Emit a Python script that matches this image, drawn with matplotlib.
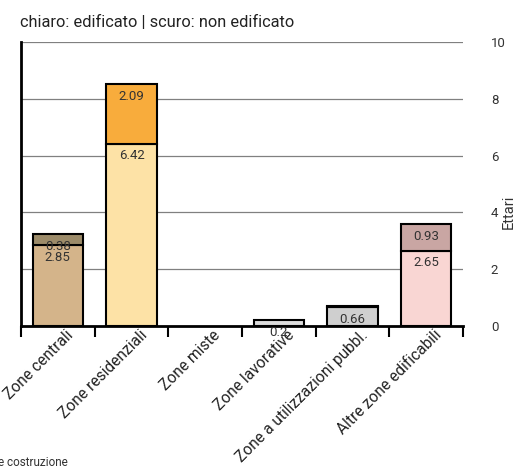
import matplotlib
matplotlib.use("Agg")
import matplotlib.pyplot as plt
import matplotlib.transforms as mtransforms
import numpy as np

plt.rcParams['font.family'] = ['Roboto', 'DejaVu Sans']

categories = ["Zone centrali", "Zone residenziali", "Zone miste", "Zone lavorative",
              "Zone a utilizzazioni pubbl.", "Altre zone edificabili"]
edificato = [2.85, 6.42, 0.0, 0.2, 0.66, 2.65]        # light segments
non_edificato = [0.38, 2.09, 0.0, 0.0, 0.03, 0.93]    # dark segments
edificato_labels = ["2.85", "6.42", "", "0.2", "0.66", "2.65"]
non_edificato_labels = ["0.38", "2.09", "", "", "", "0.93"]
yticks = [0, 2, 4, 6, 8, 10]

light_colors = ["#d4b48a", "#fde2a6", "#ffffff", "#dcdcdc", "#cfcfcf", "#f9d6d3"]
dark_colors = ["#9c8b69", "#f8ac3c", "#ffffff", "#a0a0a0", "#3a3a3a", "#c9a6a3"]

W, H = 517, 466
fig = plt.figure(figsize=(W / 100, H / 100), dpi=100)
ax = fig.add_axes([21 / W, (H - 326) / H, (463 - 21) / W, (326 - 42) / H])

x = np.arange(len(categories))
bw = 0.68

for y in yticks[1:]:
    ax.axhline(y, color="#808080", lw=0.9, zorder=1)

lw1 = [1.5 if v > 0 else 0 for v in edificato]
lw2 = [1.5 if v > 0 else 0 for v in non_edificato]
ax.bar(x, edificato, width=bw, color=light_colors, edgecolor="black", linewidth=lw1, zorder=2)
ax.bar(x, non_edificato, width=bw, bottom=edificato, color=dark_colors,
       edgecolor="black", linewidth=lw2, zorder=2)

# value labels sit just below the top of each segment
off = mtransforms.offset_copy(ax.transData, fig=fig, x=0, y=-12, units="dots")
for i in range(len(categories)):
    if edificato_labels[i]:
        ax.text(x[i], edificato[i], edificato_labels[i], transform=off,
                ha="center", va="center", fontsize=9.5, color="#333333", zorder=3)
    if non_edificato_labels[i]:
        ax.text(x[i], edificato[i] + non_edificato[i], non_edificato_labels[i], transform=off,
                ha="center", va="center", fontsize=9.5, color="#333333", zorder=3)

ax.set_xlim(-0.5, len(categories) - 0.5)
ax.set_ylim(0, 10)

for s in ["top", "right"]:
    ax.spines[s].set_visible(False)
ax.spines["left"].set_linewidth(2)
ax.spines["bottom"].set_linewidth(2)

ax.set_xticks(np.arange(-0.5, len(categories), 1.0))
ax.set_xticklabels([])
ax.tick_params(axis="x", length=8, width=1.5, direction="out")
ax.set_xticks(x, minor=True)
ax.set_xticklabels(categories, minor=True, rotation=45, ha="right", va="center",
                   rotation_mode="anchor", fontsize=11.2, color="#222222")
ax.tick_params(axis="x", which="minor", length=0, pad=5)
for lbl in ax.get_xticklabels(minor=True):
    lbl.set_transform(lbl.get_transform() + mtransforms.ScaledTranslation(13 / 100, 0, fig.dpi_scale_trans))

ax.yaxis.tick_right()
ax.set_yticks(yticks)
ax.set_yticklabels([str(v) for v in yticks], fontsize=9.5, color="#333333")
ax.tick_params(axis="y", length=0, pad=20)

fig.text(509 / W, 1 - 212 / H, "Ettari", rotation=90, fontsize=10.5, color="#333333",
         ha="center", va="center")
fig.text(20 / W, 1 - 22 / H, "chiaro: edificato | scuro: non edificato",
         fontsize=11.8, color="#222222", ha="left", va="center")
fig.text(-2 / W, 1 - 463 / H, "e costruzione", fontsize=8.5, color="#333333",
         ha="left", va="center")

fig.savefig("out.png", dpi=100)
